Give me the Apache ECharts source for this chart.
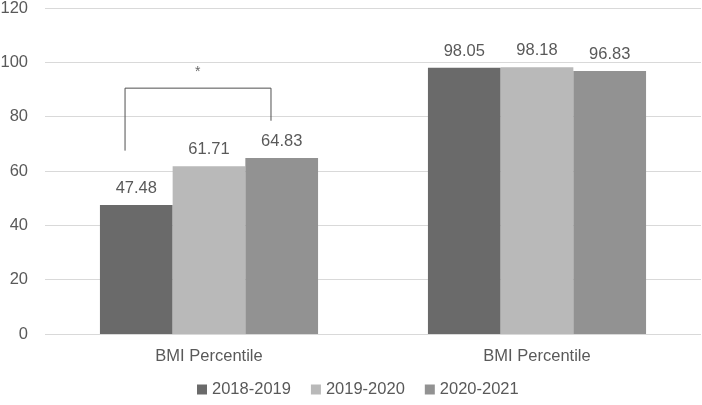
<!DOCTYPE html>
<html><head><meta charset="utf-8">
<script src="https://cdn.jsdelivr.net/npm/echarts@6/dist/echarts.min.js"></script>
<style>html,body{margin:0;padding:0;background:#fff}#c{width:702px;height:405px}</style>
</head><body><div id="c"></div>
<script>
var categories = ['BMI Percentile', 'BMI Percentile '];
var seriesNames = ['2018-2019', '2019-2020', '2020-2021'];
var s2018 = [47.48, 98.05];
var s2019 = [61.71, 98.18];
var s2020 = [64.83, 96.83];
var yTicks = [0, 20, 40, 60, 80, 100, 120];
// significance bracket in (category-position, value) coordinates
var bracket = [[0.244, 67.5], [0.244, 90.5], [0.689, 90.5], [0.689, 78.5]];
var star = [[0.466, 96.4]];

var colors = ['#6a6a6a', '#b9b9b9', '#929292'];
var font = 'Liberation Sans';
var txt = '#595959';
var chart = echarts.init(document.getElementById('c'), null, {renderer: 'canvas'});
function bar(name, data, i) {
  return {
    name: name, type: 'bar', data: data, barGap: '0%', barCategoryGap: '33.5%',
    itemStyle: {color: colors[i]},
    label: {show: true, position: 'top', distance: 8, color: txt, fontSize: 16.5, fontFamily: font,
      formatter: function (p) { return p.value.toFixed(2); }},
    z: 2
  };
}
chart.setOption({
  animation: false,
  textStyle: {fontFamily: font},
  grid: {left: 45, right: 1, top: 8, bottom: 71, containLabel: false, outerBoundsMode: 'none'},
  legend: {
    data: seriesNames, bottom: 2, left: 192, itemWidth: 10, itemHeight: 10, itemGap: 20,
    icon: 'rect', textStyle: {color: txt, fontSize: 16.5, fontFamily: font}
  },
  xAxis: [{
    type: 'category', data: categories,
    axisLine: {show: false}, axisTick: {show: false},
    axisLabel: {color: txt, fontSize: 16.5, fontFamily: font, margin: 14,
      formatter: function (v) { return v.trim(); }}
  }, {
    type: 'value', min: 0, max: 2, show: false
  }],
  yAxis: {
    type: 'value', min: 0, max: 120, interval: 20,
    axisLine: {show: false}, axisTick: {show: false},
    axisLabel: {color: txt, fontSize: 16.5, fontFamily: font, margin: 17},
    splitLine: {lineStyle: {color: '#d9d9d9', width: 1}}
  },
  series: [
    bar(seriesNames[0], s2018, 0),
    bar(seriesNames[1], s2019, 1),
    bar(seriesNames[2], s2020, 2),
    {type: 'line', xAxisIndex: 1, data: bracket, symbol: 'none', silent: true,
      lineStyle: {color: '#505050', width: 1}, z: 5},
    {type: 'scatter', xAxisIndex: 1, data: star, symbolSize: 0, silent: true,
      label: {show: true, position: 'inside', formatter: '*', color: '#404040', fontSize: 14, fontFamily: font}}
  ]
});
</script>
</body></html>
